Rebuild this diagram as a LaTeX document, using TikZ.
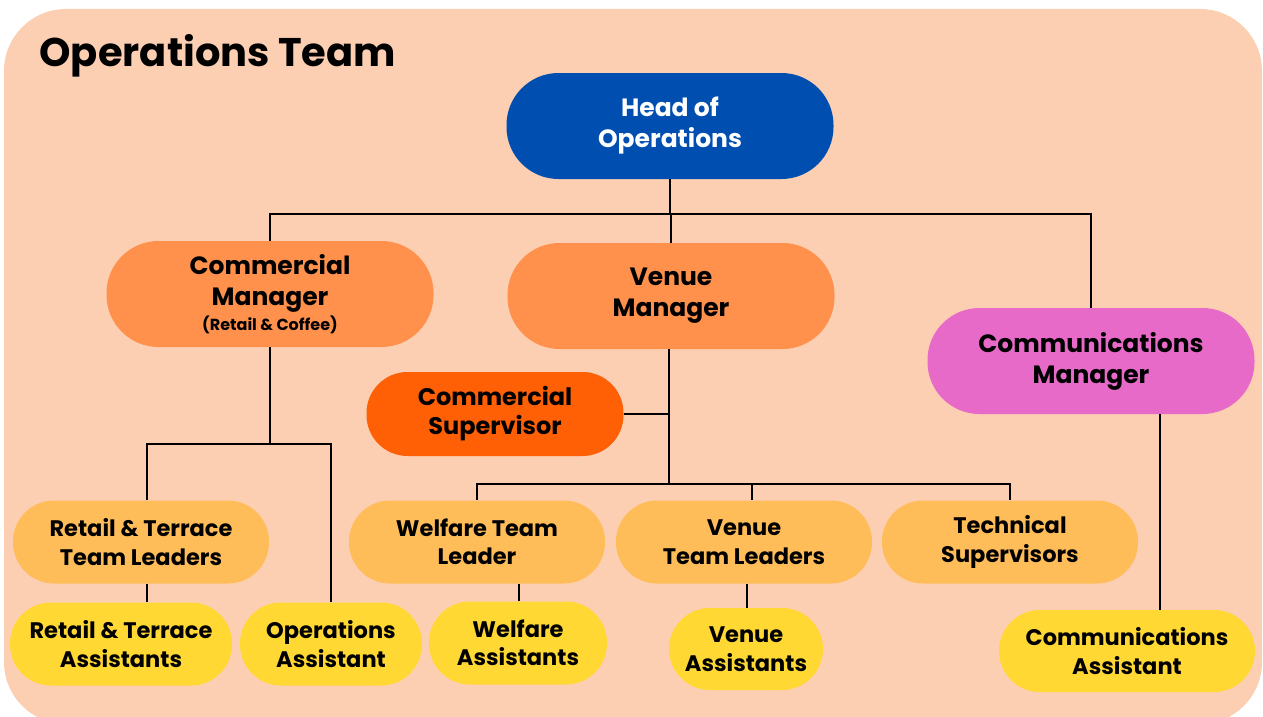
\documentclass[tikz,border=0pt]{standalone}
\usepackage{fontspec}
\setmainfont{Poppins}
\definecolor{bgpeach}{HTML}{FDCFB2}
\definecolor{headblue}{HTML}{004EB0}
\definecolor{mgrorange}{HTML}{FF914D}
\definecolor{suporange}{HTML}{FF5F05}
\definecolor{commpink}{HTML}{E86AC8}
\definecolor{leadamber}{HTML}{FFBD59}
\definecolor{assistyellow}{HTML}{FFD833}
\begin{document}
\begin{tikzpicture}[x=1pt,y=-1pt,
  pill/.style={rectangle, rounded corners=41pt, align=center, inner sep=0pt,
    font=\fontsize{25}{31}\selectfont\bfseries, text=black},
  bigpill/.style={pill, rounded corners=52pt, minimum width=327pt, minimum height=106pt},
  midpill/.style={pill, minimum width=256pt, minimum height=83pt,
    font=\fontsize{22.5}{28.5}\selectfont\bfseries},
  conn/.style={draw=black, line width=1.6pt}]
\useasboundingbox (0,0) rectangle (1263,717);
\fill[bgpeach, rounded corners=62pt] (4,9) rectangle (1262,724);
\node[anchor=west, font=\fontsize{40}{46}\selectfont\bfseries] (title) at (36,56) {Operations Team};

\node[bigpill, fill=headblue, text=white] (head) at (670,126) {Head of\\Operations};
\node[bigpill, fill=mgrorange] (cm) at (270,294) {Commercial\\Manager\\[-6pt]{\fontsize{16}{18}\selectfont(Retail \& Coffee)}};
\node[bigpill, fill=mgrorange] (vm) at (671,296) {Venue\\Manager};
\node[bigpill, fill=commpink] (comm) at (1091,361) {Communications\\Manager};
\node[midpill, fill=suporange, minimum width=257pt, minimum height=84pt, font=\fontsize{24}{29}\selectfont\bfseries] (cs) at (495,414) {Commercial\\Supervisor};

\node[midpill, fill=leadamber] (rtl) at (141,542) {Retail \& Terrace\\Team Leaders};
\node[midpill, fill=leadamber] (wtl) at (477,542) {Welfare Team\\Leader};
\node[midpill, fill=leadamber] (vtl) at (744,542) {Venue\\Team Leaders};
\node[midpill, fill=leadamber] (ts) at (1010,542) {Technical\\Supervisors};

\node[midpill, fill=assistyellow, minimum width=222pt] (rta) at (121,644) {Retail \& Terrace\\Assistants};
\node[midpill, fill=assistyellow, minimum width=182pt] (oa) at (331,644) {Operations\\Assistant};
\node[midpill, fill=assistyellow, minimum width=178pt] (wa) at (518,643) {Welfare\\Assistants};
\node[midpill, fill=assistyellow, minimum width=154pt, minimum height=82pt] (va) at (746,649) {Venue\\Assistants};
\node[midpill, fill=assistyellow, minimum height=82pt] (ca) at (1127,651) {Communications\\Assistant};

% bus coordinates
\coordinate (busA) at (0,214);
\coordinate (busB) at (0,444);
\coordinate (busC) at (0,484);
\coordinate (xrt) at (147,0);
\coordinate (xvm) at (669,0);
\coordinate (xvtl) at (752,0);
\coordinate (xvta) at (747,0);
\coordinate (xwa) at (519,0);
\coordinate (xcomm) at (1160,0);

% head level
\draw[conn] (head.south) -- (head.south |- busA);
\draw[conn] (cm.north) -- (cm.north |- busA) -- (comm.north |- busA) -- (comm.north);
\draw[conn] (vm.north) -- (vm.north |- busA);

% commercial manager branch
\draw[conn] (cm.south) -- (cm.south |- busB);
\draw[conn] (xrt |- rtl.north) -- (xrt |- busB) -- (oa.north |- busB) -- (oa.north);
\draw[conn] (xrt |- rtl.south) -- (xrt |- rta.north);

% venue manager branch
\draw[conn] (xvm |- vm.south) -- (xvm |- busC);
\draw[conn] (cs.east) -- (xvm |- cs.east);
\draw[conn] (wtl.north) -- (wtl.north |- busC) -- (ts.north |- busC) -- (ts.north);
\draw[conn] (xvtl |- vtl.north) -- (xvtl |- busC);
\draw[conn] (xwa |- wtl.south) -- (xwa |- wa.north);
\draw[conn] (xvta |- vtl.south) -- (xvta |- va.north);

% communications branch
\draw[conn] (xcomm |- comm.south) -- (xcomm |- ca.north);
\end{tikzpicture}
\end{document}
